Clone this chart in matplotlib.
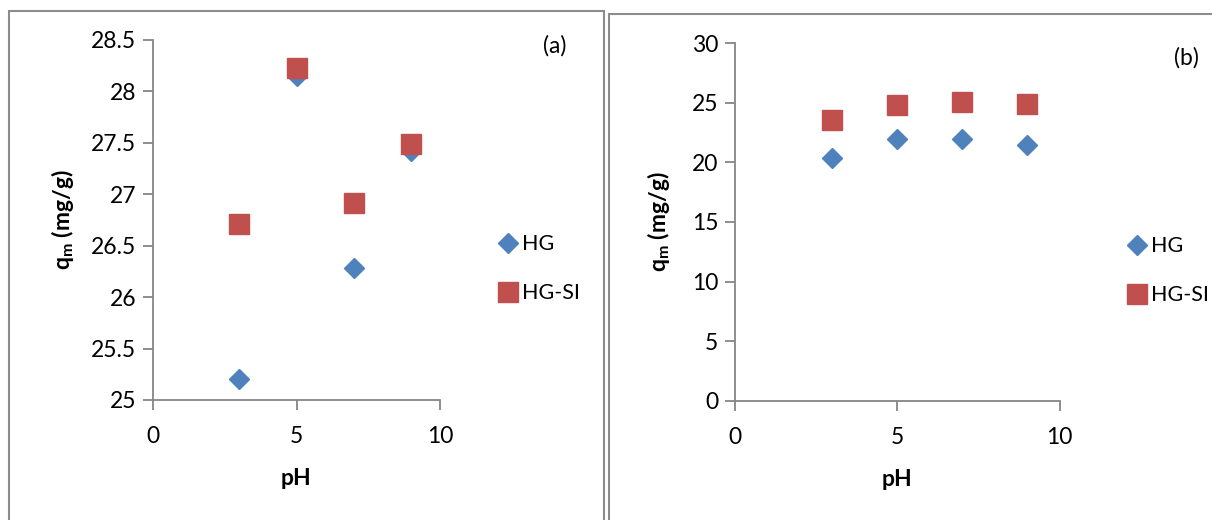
import matplotlib
matplotlib.use('Agg')
import matplotlib.pyplot as plt
from matplotlib.patches import Rectangle

plt.rcParams['font.family'] = ['Lato', 'DejaVu Sans']

# data
ph = [3, 5, 7, 9]
hg_a = [25.20, 28.15, 26.28, 27.42]
hgsi_a = [26.71, 28.23, 26.92, 27.49]
hg_b = [20.35, 21.95, 21.95, 21.45]
hgsi_b = [23.57, 24.8, 25.1, 24.88]

BLUE = '#4F81BD'
RED = '#C0504D'
GREY = '#868686'
FS = 16.5

fig = plt.figure(figsize=(12.12, 5.2), dpi=100)

# panel frames (like the word chart borders)
for x0, y0, w, h in [(9 / 1212, -0.1, 595 / 1212, 1.1 - 11 / 520),
                     (609 / 1212, -0.1, 0.6, 1.1 - 14 / 520)]:
    fig.patches.append(Rectangle((x0, y0), w, h, transform=fig.transFigure,
                                 fill=False, ec='#8c8c8c', lw=1.5, clip_on=False))


def setup(ax, ylim, yticks, ylabel_pad, tag, tag_xy, legend_anchor):
    ax.set_xlim(0, 10)
    ax.set_xticks([0, 5, 10])
    ax.set_ylim(*ylim)
    ax.set_yticks(yticks)
    ax.set_yticklabels([('%g' % v) for v in yticks])
    for s in ['top', 'right']:
        ax.spines[s].set_visible(False)
    for s in ['left', 'bottom']:
        ax.spines[s].set_color(GREY)
        ax.spines[s].set_linewidth(1.3)
    ax.tick_params(direction='out', length=7, width=1.3, color=GREY,
                   labelsize=FS, pad=5)
    ax.tick_params(axis='x', pad=12)
    ax.set_xlabel('pH', fontsize=FS, fontweight='bold', labelpad=15)
    ax.set_ylabel(r'q$_\mathregular{m}$ (mg/g)', fontsize=FS,
                  fontweight='bold', labelpad=ylabel_pad)
    ax.text(tag_xy[0], tag_xy[1], tag, transform=ax.transAxes, fontsize=FS,
            ha='center', va='center')
    ax.legend(loc='center left', bbox_to_anchor=legend_anchor, frameon=False,
              fontsize=15.5, handletextpad=0.1, labelspacing=1.35,
              handlelength=1.1, borderaxespad=0)


ax1 = fig.add_axes([153 / 1212, 1 - 400 / 520, 287 / 1212, 360 / 520])
ax1.plot(ph, hg_a, 'D', color=BLUE, ms=10, mec=BLUE, label='HG', clip_on=False)
ax1.plot(ph, hgsi_a, 's', color=RED, ms=14, mec=RED, label='HG-SI', clip_on=False)
setup(ax1, (25, 28.5), [25, 25.5, 26, 26.5, 27, 27.5, 28, 28.5], 11, '(a)',
      (1.40, 0.985), (1.165, 0.365))

ax2 = fig.add_axes([735 / 1212, 1 - 400.7 / 520, 324.5 / 1212, 357.4 / 520])
ax2.plot(ph, hg_b, 'D', color=BLUE, ms=10, mec=BLUE, label='HG', clip_on=False)
ax2.plot(ph, hgsi_b, 's', color=RED, ms=14, mec=RED, label='HG-SI', clip_on=False)
setup(ax2, (0, 30), [0, 5, 10, 15, 20, 25, 30], 14, '(b)',
      (1.39, 0.96), (1.175, 0.363))

fig.savefig('out.png', dpi=100)
